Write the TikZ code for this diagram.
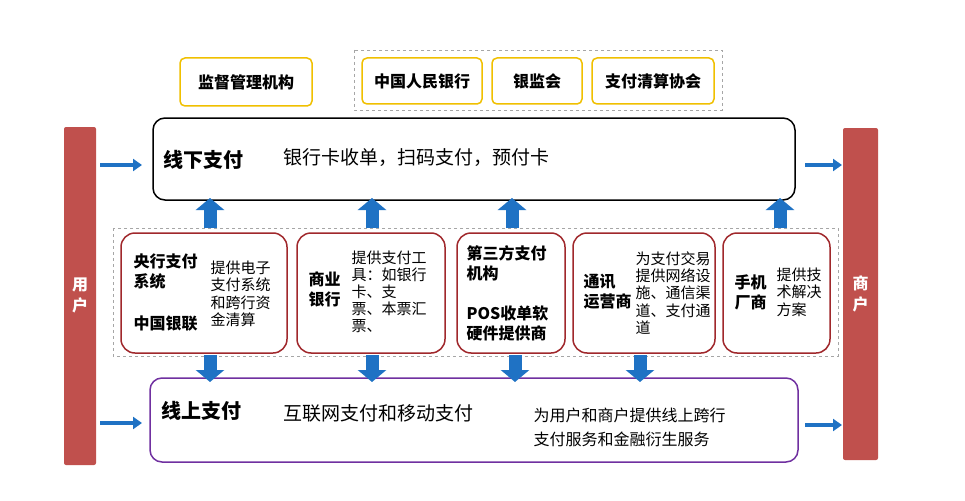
\documentclass[tikz,border=0pt]{standalone}
\usepackage{fontspec}
\setmainfont{Noto Sans CJK SC}
\usetikzlibrary{arrows.meta}
\definecolor{ared}{HTML}{C0504D}
\definecolor{bred}{HTML}{A0282C}
\definecolor{ayel}{HTML}{F0C000}
\definecolor{ablue}{HTML}{1F72C4}
\definecolor{apur}{HTML}{7030A0}
\tikzset{
 ybox/.style={draw=ayel,line width=1.5pt,rounded corners=5pt,font=\bfseries\fontsize{16}{18}\selectfont},
 rbox/.style={draw=bred,line width=1.5pt,rounded corners=14pt},
 grp/.style={draw=gray!70,dashed,line width=0.5pt},
 bar/.style={fill=ared,draw=none,rounded corners=2pt,text=white,font=\bfseries\fontsize{16}{21}\selectfont,align=center},
 blk/.style={ablue,line width=13pt,-{Triangle[width=28pt,length=12pt]},shorten >=0pt},
 sarr/.style={ablue,line width=4pt,-{Triangle[width=12pt,length=9pt]}},
 bt/.style={font=\bfseries\fontsize{16}{20}\selectfont,align=left,anchor=west},
 st/.style={font=\fontsize{15}{17.5}\selectfont,align=left,anchor=west},
}
\begin{document}
\begin{tikzpicture}[x=1pt,y=-1pt]
\useasboundingbox[fill=white] (0,0) rectangle (965,500);
% top
\node[ybox,minimum width=132pt,minimum height=48pt] (jg) at (246,82) {监督管理机构};
\draw[grp] (354,50) rectangle (722,110);
\node[ybox,minimum width=120pt,minimum height=46pt] (rm) at (422,81) {中国人民银行};
\node[ybox,minimum width=90pt,minimum height=46pt] (yj) at (537,81) {银监会};
\node[ybox,minimum width=122pt,minimum height=46pt] (zf) at (653,81) {支付清算协会};
% main boxes
\draw[line width=1.5pt,rounded corners=12pt] (153,118) rectangle (795,200);
\node[bt,font=\bfseries\fontsize{20}{24}\selectfont] at (160,160) {线下支付};
\node[st,font=\fontsize{19}{22}\selectfont] at (280,158) {银行卡收单，扫码支付，预付卡};
\draw[apur,line width=1.5pt,rounded corners=12pt] (150,378) rectangle (798,462);
\node[bt,font=\bfseries\fontsize{20}{24}\selectfont] at (158,411) {线上支付};
\node[st,font=\fontsize{19}{22}\selectfont] at (280,413) {互联网支付和移动支付};
\node[st,font=\fontsize{16}{24}\selectfont] at (530,427) {为用户和商户提供线上跨行\\支付服务和金融衍生服务};
% side bars
\path[bar] (64,127) rectangle (96,465) node[midway] (u) {用\\户};
\path[bar] (843,128) rectangle (878,460) node[midway] (s) {商\\户};
% middle group
\draw[grp] (113,228) rectangle (838,356);
\draw[rbox] (121,233) rectangle (287,353);
\node[bt] at (130,272) {央行支付\\系统};
\node[bt] at (130,324) {中国银联};
\node[st] at (207,294) {提供电子\\支付系统\\和跨行资\\金清算};
\draw[rbox] (297,233) rectangle (445,353);
\node[bt] at (305,289) {商业\\银行};
\node[st,font=\fontsize{15}{17}\selectfont] at (348,292) {提供支付工\\具：如银行\\卡、支\\票、本票汇\\票、};
\draw[rbox] (457,233) rectangle (565,353);
\node[bt] at (463,263) {第三方支付\\机构};
\node[bt] at (463,323) {POS收单软\\硬件提供商};
\draw[rbox] (573,233) rectangle (715,353);
\node[bt] at (580,292) {通讯\\运营商};
\node[st,font=\fontsize{15}{17.3}\selectfont] at (632,293) {为支付交易\\提供网络设\\施、通信渠\\道、支付通\\道};
\draw[rbox] (723,233) rectangle (830,353);
\node[bt] at (731,292) {手机\\厂商};
\node[st] at (773,292) {提供技\\术解决\\方案};
% arrows
\foreach \x in {210,372,512,780}{
 \coordinate (a\x) at (\x,228); \coordinate (b\x) at (\x,198);
 \draw[blk] (a\x) -- (b\x);}
\foreach \x in {210,372,515,640}{
 \coordinate (c\x) at (\x,355); \coordinate (d\x) at (\x,382);
 \draw[blk] (c\x) -- (d\x);}
\coordinate (l1) at (100,165); \coordinate (l1e) at (142,165);
\coordinate (l2) at (100,423); \coordinate (l2e) at (142,423);
\coordinate (r1) at (805,165); \coordinate (r1e) at (842,165);
\coordinate (r2) at (805,425); \coordinate (r2e) at (842,425);
\draw[sarr] (l1) -- (l1e); \draw[sarr] (l2) -- (l2e);
\draw[sarr] (r1) -- (r1e); \draw[sarr] (r2) -- (r2e);
\end{tikzpicture}
\end{document}
